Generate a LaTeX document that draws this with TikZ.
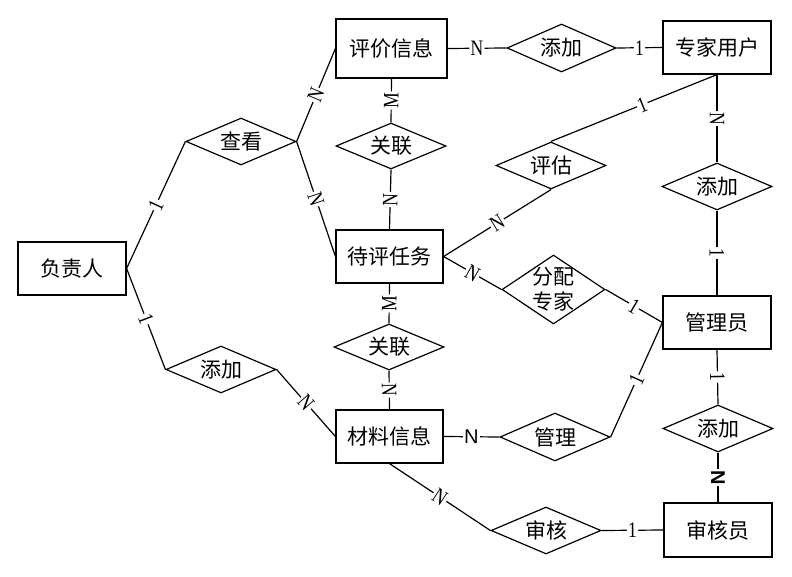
\documentclass[tikz,border=0pt]{standalone}
\usepackage{fontspec}
\setmainfont{Liberation Serif}
\newfontfamily\cjk{Noto Sans CJK SC}
\newfontfamily\arialf{Liberation Sans}
\usetikzlibrary{shapes.geometric}
\newcommand{\cardtxt}[1]{\scalebox{0.8}[1]{#1}}
\begin{document}
\begin{tikzpicture}[x=1pt,y=-1pt,
  ent/.style={draw, line width=1.2pt, minimum width=108pt, minimum height=53pt, inner sep=0pt, font=\cjk\fontsize{21}{25}\selectfont},
  rel/.style={draw, diamond, line width=1.2pt, minimum width=110pt, minimum height=47pt, inner sep=0pt},
  lbl/.style={font=\cjk\fontsize{21}{25}\selectfont, align=center, inner sep=0pt},
  conn/.style={line width=1.2pt},
  card/.style={fill=white, inner sep=1.2pt, sloped, font=\fontsize{22}{22}\selectfont},
  cards/.style={card, font=\arialf\fontsize{20}{20}\selectfont},
  cardb/.style={card, font=\arialf\bfseries\fontsize{20}{20}\selectfont}]
\path[fill=white, use as bounding box] (0,0) rectangle (792,577);

% entities
\node[ent] (fzr) at (72,268.5) {负责人};
\node[ent, minimum width=111pt, minimum height=59pt] (pjxx) at (391.5,48.5) {评价信息};
\node[ent] (zjyh) at (717,47.5) {专家用户};
\node[ent, minimum width=107pt] (dprw) at (389.5,256.5) {待评任务};
\node[ent, minimum width=107pt] (clxx) at (389.5,436.5) {材料信息};
\node[ent] (gly) at (717,322.5) {管理员};
\node[ent, minimum height=54pt] (shy) at (718,530) {审核员};

% relationships
\node[rel, label={[lbl]center:查看}] (chakan) at (241,141.5) {};
\node[rel, label={[lbl]center:添加}] (tj1) at (221,369.5) {};
\node[rel, minimum width=109pt, minimum height=48pt, label={[lbl]center:添加}] (tj2) at (561.5,48) {};
\node[rel, minimum height=46pt, label={[lbl]center:关联}] (gl1) at (391,146) {};
\node[rel, label={[lbl]center:评估}] (pg) at (551,165.5) {};
\node[rel, minimum width=103pt, minimum height=69pt, label={[lbl]center:分配\\专家}] (fp) at (553.5,289.5) {};
\node[rel, minimum height=46pt, label={[lbl]center:关联}] (gl2) at (389,347) {};
\node[rel, minimum height=48pt, label={[lbl]center:管理}] (guanli) at (555,437) {};
\node[rel, label={[lbl]center:添加}] (tj3) at (717,186.5) {};
\node[rel, label={[lbl]center:添加}] (tj4) at (718,428.5) {};
\node[rel, label={[lbl]center:审核}] (sh) at (546,530.5) {};

% connectors
\draw[conn] (fzr.east) -- node[card]{\cardtxt{1}} (chakan.west);
\draw[conn] (fzr.east) -- node[card]{\cardtxt{1}} (tj1.west);
\draw[conn] (chakan.east) -- node[card]{\cardtxt{N}} (pjxx.west);
\draw[conn] (chakan.east) -- node[card]{\cardtxt{N}} (dprw.west);
\draw[conn] (tj1.east) -- node[card]{\cardtxt{N}} (clxx.west);
\draw[conn] (pjxx.east) -- node[card]{\cardtxt{N}} (tj2.west);
\draw[conn] (tj2.east) -- node[card]{\cardtxt{1}} (zjyh.west);
\draw[conn] (pjxx.south) -- node[card]{\cardtxt{M}} (gl1.north);
\draw[conn] (gl1.south) -- node[card]{\cardtxt{N}} (dprw.north);
\draw[conn] (zjyh.south) -- node[card, pos=0.45]{\cardtxt{1}} (pg.north);
\draw[conn] (zjyh.south) -- node[card]{\cardtxt{N}} (tj3.north);
\draw[conn] (tj3.south) -- node[card]{\cardtxt{1}} (gly.north);
\draw[conn] (dprw.east) -- node[card]{\cardtxt{N}} (pg.south);
\draw[conn] (dprw.east) -- node[card]{\cardtxt{N}} (fp.west);
\draw[conn] (fp.east) -- node[card]{\cardtxt{1}} (gly.west);
\draw[conn] (dprw.south) -- node[card]{\cardtxt{M}} (gl2.north);
\draw[conn] (gl2.south) -- node[card]{\cardtxt{N}} (clxx.north);
\draw[conn] (clxx.east) -- node[cards]{N} (guanli.west);
\draw[conn] (guanli.east) -- node[card]{\cardtxt{1}} (gly.west);
\draw[conn] (gly.south) -- node[card]{\cardtxt{1}} (tj4.north);
\draw[conn] (tj4.south) -- node[cardb]{N} (shy.north);
\draw[conn] (clxx.south) -- node[card]{\cardtxt{N}} (sh.west);
\draw[conn] (sh.east) -- node[card]{\cardtxt{1}} (shy.west);
\end{tikzpicture}
\end{document}
